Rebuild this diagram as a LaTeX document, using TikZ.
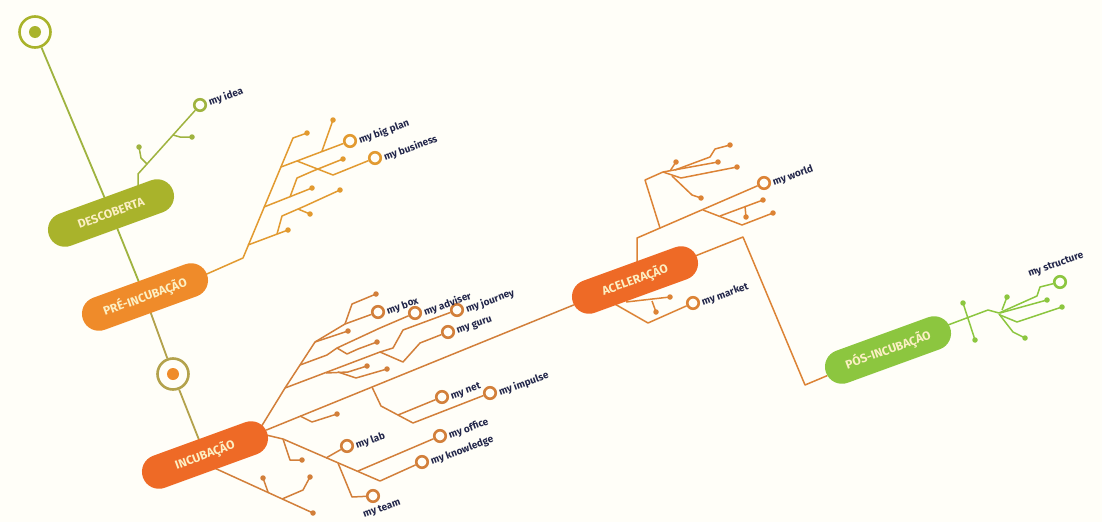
\documentclass[tikz,border=0pt]{standalone}
\usepackage{fontspec}
\setmainfont{Fira Sans}
\usetikzlibrary{shapes.misc}
\definecolor{paper}{HTML}{FFFEF8}
\definecolor{olive}{HTML}{A9B32B}
\definecolor{oliveln}{HTML}{9FB33F}
\definecolor{spine}{HTML}{B3A24C}
\definecolor{preorg}{HTML}{EF8B2A}
\definecolor{preln}{HTML}{E29A30}
\definecolor{incorg}{HTML}{EE6A26}
\definecolor{incln}{HTML}{D27F3A}
\definecolor{acelln}{HTML}{DC8335}
\definecolor{posgrn}{HTML}{8CC63F}
\definecolor{ink}{HTML}{22264A}
\definecolor{pilltext}{HTML}{FCF0C4}
\pgfdeclarelayer{paperlayer}
\pgfdeclarelayer{tracelayer}
\pgfsetlayers{paperlayer,tracelayer,main}
\tikzset{
  phase/.style={rounded rectangle, minimum width=132pt, minimum height=34pt,
    rotate=20, text=pilltext, font=\fontsize{12}{12}\selectfont\bfseries},
  hub/.style={circle, line width=2.6pt, minimum size=31pt, fill=paper},
  port/.style={circle, line width=2.6pt, minimum size=11.5pt, fill=paper},
  pad/.style={circle, fill, minimum size=5.5pt},
  lbl/.style={rotate=20, text=ink, font=\fontsize{10}{10}\selectfont\bfseries},
  trace/.style={line width=1.5pt, line join=round},
}
\begin{document}
\begin{tikzpicture}[x=1pt, y=-1pt, every node/.style={inner sep=0pt}]

\begin{pgfonlayer}{paperlayer}
  \fill[paper] (0,0) rectangle (1102,522);
\end{pgfonlayer}
\useasboundingbox (0,0) rectangle (1102,522);

% phases
\node[phase, fill=olive]  (desc) at (111,213) {DESCOBERTA};
\node[phase, fill=preorg] (pre)  at (145,297) {PRÉ-INCUBAÇÃO};
\node[phase, fill=incorg] (inc)  at (205,455) {INCUBAÇÃO};
\node[phase, fill=incorg] (acel) at (635,280) {ACELERAÇÃO};
\node[phase, fill=posgrn] (pos)  at (888,350) {PÓS-INCUBAÇÃO};

% hubs on the spine
\node[hub, draw=olive] (start) at (35,32) {};
\fill[olive] (start.center) circle (6pt);
\node[hub, draw=spine] (mid) at (173,374) {};
\fill[preorg] (mid.center) circle (6pt);

% ring ends
\node[port, draw=oliveln] (idea)      at (200,105) {};
\node[port, draw=preln]   (bigplan)   at (350,141) {};
\node[port, draw=preln]   (business)  at (375,158) {};
\node[port, draw=incln]   (box)       at (378,312) {};
\node[port, draw=incln]   (adviser)   at (415,313) {};
\node[port, draw=incln]   (journey)   at (457,310) {};
\node[port, draw=incln]   (guru)      at (448,332) {};
\node[port, draw=incln]   (net)       at (442,397) {};
\node[port, draw=incln]   (impulse)   at (490,393) {};
\node[port, draw=incln]   (lab)       at (347,446) {};
\node[port, draw=incln]   (office)    at (440,436) {};
\node[port, draw=incln]   (knowledge) at (422,462) {};
\node[port, draw=incln]   (team)      at (373,496) {};
\node[port, draw=acelln]  (world)     at (764,183) {};
\node[port, draw=acelln]  (market)    at (693,303) {};
\node[port, draw=posgrn]  (structure) at (1060,282) {};

% labels
\node[lbl, anchor=west] at ([shift={(2pt,2pt)}]idea.east) {my idea};
\node[lbl, anchor=west] at ([xshift=2pt]bigplan.east) {my big plan};
\node[lbl, anchor=west] at ([xshift=2pt]business.east) {my business};
\node[lbl, anchor=west] at ([xshift=2pt]box.east) {my box};
\node[lbl, anchor=west] at ([xshift=2pt]adviser.east) {my adviser};
\node[lbl, anchor=west] at ([xshift=2pt]journey.east) {my journey};
\node[lbl, anchor=west] at ([xshift=2pt]guru.east) {my guru};
\node[lbl, anchor=west] at ([xshift=2pt]net.east) {my net};
\node[lbl, anchor=west] at ([xshift=2pt]impulse.east) {my impulse};
\node[lbl, anchor=west] at ([xshift=2pt]lab.east) {my lab};
\node[lbl, anchor=west] at ([xshift=2pt]office.east) {my office};
\node[lbl, anchor=west] at ([xshift=2pt]knowledge.east) {my knowledge};
\node[lbl] at ([shift={(9pt,-13pt)}]team.center) {my team};
\node[lbl, anchor=west] at ([xshift=2pt]world.east) {my world};
\node[lbl, anchor=west] at ([xshift=2pt]market.east) {my market};
\node[lbl] at ([shift={(-4pt,17pt)}]structure.center) {my structure};

\begin{pgfonlayer}{tracelayer}
% spine
\draw[oliveln, line width=1.8pt] (start) -- (desc.center) -- (pre.center);
\draw[spine, line width=1.8pt] (pre.center) -- (mid) -- (inc.center);

% descoberta
\begin{scope}[trace, oliveln]
  \draw (138,190) -- (138,174) -- (idea);
  \draw (147,164) -- (141,158) -- (139,147) node[pad]{};
  \draw (173,135) -- (180,137) -- (192,137) node[pad]{};
\end{scope}

% pre-incubacao
\begin{scope}[trace, preln]
  \draw (200,277) -- (243,258) -- (293,138) -- (307,133) node[pad]{};
  \draw (248,245) -- (288,230) node[pad]{};
  \draw (277,234) -- (282,216) -- (305,206) -- (340,190) node[pad]{};
  \draw (298,209) -- (310,214) node[pad]{};
  \draw (264,207) -- (312,188) node[pad]{};
  \draw (290,197) -- (297,178) -- (313,171) -- (343,159) node[pad]{};
  \draw (281,167) -- (bigplan);
  \draw (322,151) -- (333,120) node[pad]{};
  \draw (297,161) -- (333,175) -- (business);
\end{scope}

% incubacao
\begin{scope}[trace, incln]
  \draw (inc) -- (acel);
  \draw (258,432) -- (285,388) -- (315,342) -- (345,324) -- (box);
  \draw (345,324) -- (352,304) -- (376,294) node[pad]{};
  \draw (315,342) -- (348,331) node[pad]{};
  \draw (285,388) -- (380,352) -- (393,348) -- (403,330) -- (journey);
  \draw (380,352) -- (403,362) -- (420,343) -- (guru);
  \draw (300,365) -- (327,355) -- (337,348) -- (380,328) -- (adviser);
  \draw (337,348) -- (347,354) -- (358,349) -- (377,342) node[pad]{};
  \draw (326,373) -- (348,372) -- (367,366) node[pad]{};
  \draw (338,372) -- (356,378) -- (387,369) node[pad]{};
  \draw (372,387) -- (381,406) -- (413,423) -- (impulse);
  \draw (398,415) -- (net);
  \draw (300,416) -- (312,422) -- (337,414) node[pad]{};
  \draw (262,434) -- (283,439) -- (380,481) -- (knowledge);
  \draw (358,471) -- (office);
  \draw (326,458) -- (lab);
  \draw (338,463) -- (352,497) -- (team);
  \draw (283,439) -- (290,460) -- (302,460) node[pad]{};
  \draw (210,466) -- (313,513) node[pad]{};
  \draw (268,492) -- (263,478) node[pad]{};
  \draw (282,499) -- (303,490) -- (310,477) node[pad]{};
\end{scope}

% aceleracao
\begin{scope}[trace, acelln]
  \draw (680,262) -- (743,237) -- (805,385) -- (pos);
  \draw (637,268) -- (637,238) -- (world);
  \draw (660,228) -- (645,180) -- (663,172) -- (718,162) node[pad]{};
  \draw (670,171) -- (676,162) node[pad]{};
  \draw (675,170) -- (710,157) -- (715,149) -- (730,145) node[pad]{};
  \draw (663,172) -- (681,178) -- (737,167) node[pad]{};
  \draw (672,176) -- (692,195) -- (701,198) node[pad]{};
  \draw (703,210) -- (742,225) -- (773,213) node[pad]{};
  \draw (720,216) -- (763,200) node[pad]{};
  \draw (745,206) -- (746,217) node[pad]{};
  \draw (613,303) -- (648,323) -- (market);
  \draw (626,302) -- (670,297) node[pad]{};
  \draw (652,301) -- (656,312) node[pad]{};
\end{scope}

% pos-incubacao
\begin{scope}[trace, posgrn]
  \draw (940,328) -- (988,310) -- (999,313) -- (1037,296) -- (1040,287) -- (structure);
  \draw (963,303) node[pad]{} -- (975,340) node[pad]{};
  \draw (1000,313) -- (1047,300) node[pad]{};
  \draw (1000,315) -- (1017,322) -- (1062,307) node[pad]{};
  \draw (999,314) -- (1013,332) -- (1025,338) node[pad]{};
  \draw (1002,310) -- (1007,297) node[pad]{};
\end{scope}
\end{pgfonlayer}

\end{tikzpicture}
\end{document}
